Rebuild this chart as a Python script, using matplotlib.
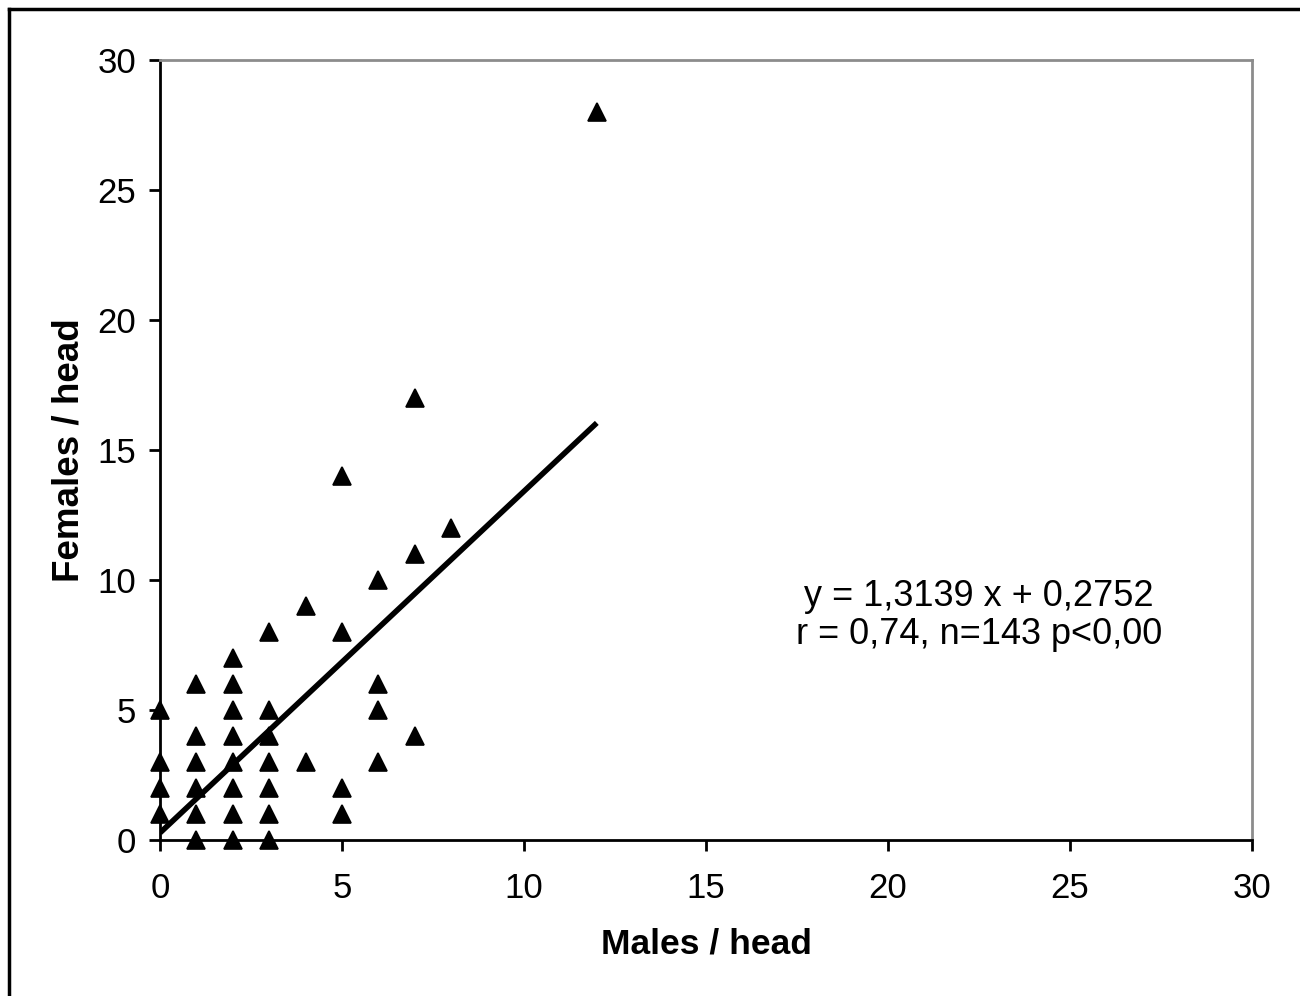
import matplotlib
matplotlib.use("Agg")
import matplotlib.pyplot as plt
from matplotlib.lines import Line2D

plt.rcParams['font.family'] = ['Liberation Sans', 'DejaVu Sans']

males = [0, 0, 0, 0,
         1, 1, 1, 1, 1, 1,
         2, 2, 2, 2, 2, 2, 2, 2,
         3, 3, 3, 3, 3, 3, 3,
         4, 4,
         5, 5, 5, 5,
         6, 6, 6, 6,
         7, 7, 7,
         8,
         12]
females = [5, 3, 2, 1,
           6, 4, 3, 2, 1, 0,
           7, 6, 5, 4, 3, 2, 1, 0,
           8, 5, 4, 3, 2, 1, 0,
           9, 3,
           14, 8, 2, 1,
           10, 6, 5, 3,
           17, 11, 4,
           12,
           28]
slope = 1.3139
intercept = 0.2752
fit_x = [0, 12]
ticks = [0, 5, 10, 15, 20, 25, 30]

fig = plt.figure(figsize=(13, 9.96), dpi=100)
ax = fig.add_axes([160/1300, 1-840/996, (1252-160)/1300, (840-60)/996])

fit_y = [slope*v + intercept for v in fit_x]
ax.plot(fit_x, fit_y, color='black', lw=4, solid_capstyle='butt', zorder=2)
ax.plot(males, females, linestyle='none', marker='^', markersize=12.5,
        color='black', markeredgewidth=1.2, markeredgecolor='black', zorder=3, clip_on=False)

ax.set_xlim(0, 30)
ax.set_ylim(0, 30)
ax.set_xticks(ticks)
ax.set_yticks(ticks)
ax.tick_params(axis='both', direction='out', length=8, width=2, labelsize=25)
ax.tick_params(axis='x', pad=15)
ax.tick_params(axis='y', pad=9)
for s in ['left', 'bottom']:
    ax.spines[s].set_linewidth(2)
    ax.spines[s].set_color('black')
for s in ['top', 'right']:
    ax.spines[s].set_linewidth(2)
    ax.spines[s].set_color('#8c8c8c')

ax.set_xlabel('Males / head', fontsize=25.5, fontweight='bold', labelpad=16)
ax.set_ylabel('Females / head', fontsize=26.5, fontweight='bold', labelpad=8)

ax.text(22.5, 9.35, 'y = 1,3139 x + 0,2752', fontsize=26, ha='center', va='center')
ax.text(22.5, 7.9, 'r = 0,74, n=143 p<0,00', fontsize=26, ha='center', va='center')

# outer frame (top and left edges visible)
fig.add_artist(Line2D([9/1300, 9/1300], [0, 1-9/996], color='black', lw=2.5, transform=fig.transFigure))
fig.add_artist(Line2D([9/1300, 1], [1-9/996, 1-9/996], color='black', lw=2.5, transform=fig.transFigure))

fig.savefig('out.png', dpi=100)
